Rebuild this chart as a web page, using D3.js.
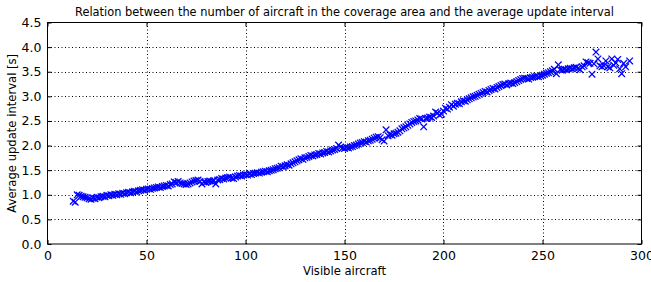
<!DOCTYPE html>
<html>
<head>
<meta charset="utf-8">
<script src="https://cdn.jsdelivr.net/npm/d3@7"></script>
<style>
  body { margin: 0; background: #fff; }
  text { font-family: "DejaVu Sans", sans-serif; fill: #000; }
</style>
</head>
<body>
<script>
var width = 651, height = 282
var margin = {top: 22.5, right: 9.5, bottom: 38, left: 47.5}

var titleText = "Relation between the number of aircraft in the coverage area and the average update interval"
var xLabel = "Visible aircraft"
var yLabel = "Average update interval [s]"
var xTicks = [0, 50, 100, 150, 200, 250, 300]
var yTicks = [0.0, 0.5, 1.0, 1.5, 2.0, 2.5, 3.0, 3.5, 4.0, 4.5]

// visible aircraft count for each sample
var aircraft = [13,14,15,16,17,18,19,20,21,22,23,24,25,26,27,28,29,30,31,32,33,34,35,36,37,38,39,40,
  41,42,43,44,45,46,47,48,49,50,51,52,53,54,55,56,57,58,59,60,61,62,63,64,65,66,67,68,69,70,
  71,72,73,74,75,76,77,78,79,80,81,82,83,84,85,86,87,88,89,90,91,92,93,94,95,96,97,98,99,100,
  101,102,103,104,105,106,107,108,109,110,111,112,113,114,115,116,117,118,119,120,121,122,123,124,125,
  126,127,128,129,130,131,132,133,134,135,136,137,138,139,140,141,142,143,144,145,146,147,148,149,150,
  151,152,153,154,155,156,157,158,159,160,161,162,163,164,165,166,167,168,169,170,171,172,173,174,175,
  176,177,178,179,180,181,182,183,184,185,186,187,188,189,190,191,192,193,194,195,196,197,198,199,200,
  201,202,203,204,205,206,207,208,209,210,211,212,213,214,215,216,217,218,219,220,221,222,223,224,225,
  226,227,228,229,230,231,232,233,234,235,236,237,238,239,240,241,242,243,244,245,246,247,248,249,250,
  251,252,253,254,255,256,257,258,259,260,261,262,263,264,265,266,267,268,269,270,271,272,273,274,275,
  276,277,278,279,280,281,282,283,284,285,286,287,288,289,290,291,292,294]

// average update interval [s] for each sample
var interval = [0.87,0.85,1.00,0.99,0.97,0.96,0.95,0.94,0.92,0.91,0.93,0.92,0.95,0.94,0.96,0.97,0.96,0.99,0.98,1.00,0.99,1.01,1.00,1.02,1.01,1.03,1.02,1.04,
  1.05,1.04,1.06,1.07,1.06,1.08,1.09,1.10,1.09,1.11,1.12,1.11,1.13,1.14,1.15,1.16,1.15,1.17,1.18,1.19,1.18,1.21,1.22,1.26,1.25,1.27,1.24,1.23,1.22,1.21,
  1.22,1.24,1.26,1.28,1.29,1.30,1.27,1.22,1.26,1.25,1.27,1.28,1.27,1.29,1.22,1.30,1.31,1.33,1.32,1.34,1.35,1.36,1.34,1.33,1.36,1.38,1.39,1.38,1.40,1.41,
  1.40,1.42,1.41,1.43,1.44,1.45,1.44,1.46,1.47,1.48,1.47,1.49,1.50,1.51,1.53,1.54,1.55,1.58,1.57,1.59,1.61,1.60,1.63,1.65,1.67,
  1.69,1.71,1.73,1.72,1.75,1.76,1.78,1.80,1.79,1.81,1.82,1.84,1.83,1.85,1.86,1.88,1.87,1.89,1.91,1.92,1.94,2.01,1.97,1.95,1.94,
  1.96,1.95,1.97,1.98,2.00,2.01,2.03,2.05,2.06,2.08,2.07,2.10,2.11,2.13,2.15,2.17,2.18,2.16,2.12,2.09,2.32,2.20,2.22,2.21,2.24,
  2.25,2.27,2.30,2.34,2.36,2.38,2.41,2.44,2.47,2.49,2.50,2.52,2.55,2.54,2.38,2.55,2.56,2.58,2.57,2.60,2.68,2.66,2.62,2.64,2.70,
  2.76,2.74,2.78,2.83,2.80,2.84,2.86,2.85,2.89,2.91,2.90,2.93,2.95,2.97,2.99,3.00,3.02,3.04,3.06,3.08,3.10,3.09,3.12,3.14,3.16,
  3.15,3.18,3.20,3.22,3.24,3.25,3.23,3.26,3.27,3.26,3.28,3.30,3.32,3.34,3.36,3.37,3.36,3.35,3.38,3.39,3.40,3.41,3.40,3.42,3.43,
  3.45,3.47,3.48,3.50,3.52,3.55,3.46,3.64,3.54,3.53,3.55,3.54,3.56,3.57,3.56,3.58,3.59,3.57,3.54,3.60,3.62,3.70,3.68,3.67,3.45,
  3.66,3.90,3.76,3.62,3.60,3.62,3.72,3.60,3.58,3.76,3.63,3.68,3.75,3.56,3.46,3.67,3.60,3.72]

var svg = d3.select("body").append("svg")
  .attr("width", width)
  .attr("height", height)

var x = d3.scaleLinear().domain([0, 300]).range([margin.left, width - margin.right])
var y = d3.scaleLinear().domain([0, 4.5]).range([height - margin.bottom, margin.top])

// grid
svg.append("g").selectAll("line").data(xTicks.slice(1, -1)).enter().append("line")
  .attr("x1", function(d) { return Math.round(x(d)) + 0.5 })
  .attr("x2", function(d) { return Math.round(x(d)) + 0.5 })
  .attr("y1", y(4.5)).attr("y2", y(0))
  .attr("stroke", "#000").attr("stroke-width", 1).attr("stroke-dasharray", "1,2.5")
svg.append("g").selectAll("line").data(yTicks.slice(1, -1)).enter().append("line")
  .attr("y1", function(d) { return Math.round(y(d)) + 0.5 })
  .attr("y2", function(d) { return Math.round(y(d)) + 0.5 })
  .attr("x1", x(0)).attr("x2", x(300))
  .attr("stroke", "#000").attr("stroke-width", 1).attr("stroke-dasharray", "1,2.5")

// axes (ticks point inward, on all four sides)
var bottom = svg.append("g").attr("transform", "translate(0," + y(0) + ")")
  .call(d3.axisBottom(x).tickValues(xTicks).tickSize(-4).tickPadding(7).tickFormat(d3.format("d")))
var top_ = svg.append("g").attr("transform", "translate(0," + y(4.5) + ")")
  .call(d3.axisTop(x).tickValues(xTicks).tickSize(-4).tickFormat(""))
var left = svg.append("g").attr("transform", "translate(" + x(0) + ",0)")
  .call(d3.axisLeft(y).tickValues(yTicks).tickSize(-4).tickPadding(6).tickFormat(d3.format(".1f")))
var right = svg.append("g").attr("transform", "translate(" + x(300) + ",0)")
  .call(d3.axisRight(y).tickValues(yTicks).tickSize(-4).tickFormat(""))

svg.selectAll(".domain").remove()
svg.selectAll(".tick line").attr("stroke", "#000")
svg.selectAll(".tick text").attr("font-size", "12.5px").attr("font-family", "DejaVu Sans").attr("fill", "#000")

// markers
var pts = aircraft.map(function(d, i) { return [d, interval[i]] })
svg.append("g").selectAll("path").data(pts).enter().append("path")
  .attr("transform", function(d) { return "translate(" + x(d[0]) + "," + y(d[1]) + ")" })
  .attr("d", "M-3.3,-3.3L3.3,3.3M-3.3,3.3L3.3,-3.3")
  .attr("stroke", "#0000ff").attr("stroke-width", 1.25).attr("fill", "none")

// frame
svg.append("rect")
  .attr("x", x(0)).attr("y", y(4.5))
  .attr("width", x(300) - x(0)).attr("height", y(0) - y(4.5))
  .attr("fill", "none").attr("stroke", "#000").attr("stroke-width", 1)

// texts
svg.append("text").attr("x", (x(0) + x(300)) / 2).attr("y", 16)
  .attr("text-anchor", "middle").attr("font-size", "11.4px").text(titleText)
svg.append("text").attr("x", (x(0) + x(300)) / 2).attr("y", 275)
  .attr("text-anchor", "middle").attr("font-size", "11.6px").text(xLabel)
svg.append("text").attr("transform", "translate(16," + (y(0) + y(4.5)) / 2 + ") rotate(-90)")
  .attr("text-anchor", "middle").attr("font-size", "11.6px").text(yLabel)
</script>
</body>
</html>
